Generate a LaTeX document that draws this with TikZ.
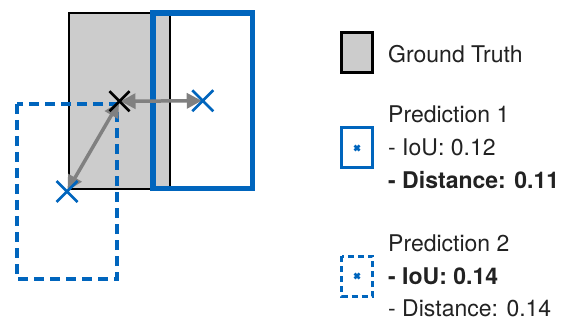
\documentclass[tikz,border=0pt]{standalone}
\usepackage{fontspec}
\setmainfont{TeX Gyre Heros}
\usetikzlibrary{arrows.meta,calc}
\definecolor{predblue}{RGB}{0,101,189}
\definecolor{gtgray}{RGB}{204,204,204}
\definecolor{txtgray}{RGB}{34,34,34}
\tikzset{
    gtbox/.style={draw=black, line width=2pt, fill=gtgray},
    predbox/.style={draw=predblue, line width=5.5pt},
    predboxdash/.style={draw=predblue, line width=4.5pt, dash pattern=on 10pt off 6pt},
    distarrow/.style={draw=gray, line width=3.5pt, {Triangle[length=15pt,width=15pt]}-{Triangle[length=15pt,width=15pt]}, shorten <=1pt, shorten >=1pt},
    cross/.style={line width=2.5pt},
    legtext/.style={anchor=base west, inner sep=0pt, text=txtgray, font=\fontsize{23}{27}\selectfont}
}
% cross marker at a named point
\newcommand{\crossat}[3]{%
    \draw[cross, #1] ($(#2)+(-#3,-#3)$) -- ($(#2)+(#3,#3)$)
        ($(#2)+(-#3,#3)$) -- ($(#2)+(#3,-#3)$);}

\begin{document}
\begin{tikzpicture}[x=1pt, y=-1pt]
    \useasboundingbox (0,0) rectangle (564,320);
    % boxes
    \draw[gtbox] (69,13.5) rectangle (170,189);
    \coordinate (gtc) at (119.5,101.25);
    \draw[predbox] (153,13) rectangle (252.5,188.5);
    \coordinate (pa) at (202.75,100.75);
    \draw[predboxdash] (17,104) rectangle (117,279);
    \coordinate (pb) at (67,191.5);
    % distances between centres
    \draw[distarrow] (gtc) -- (pa);
    \draw[distarrow] (gtc) -- (pb);
    \crossat{black}{gtc}{10}
    \crossat{predblue}{pa}{10.5}
    \crossat{predblue}{pb}{10.5}

    % legend
    \draw[draw=black, line width=3pt, fill=gtgray] (341.5,33) rectangle (372.5,73);
    \node[legtext] (lgt) at (388,62.5) {Ground Truth};

    \draw[draw=predblue, line width=3pt] (341.5,128) rectangle (372.5,168);
    \coordinate (la) at (357,148);
    \crossat{predblue}{la}{2.5}
    \node[legtext] (la1) at (388,122.5) {Prediction 1};
    \node[legtext] (la2) at (388,156) {- IoU: 0.12};
    \node[legtext] (la3) at (388,189) {\bfseries - Distance: 0.11};

    \draw[draw=predblue, line width=3pt, dash pattern=on 6pt off 4pt] (341.5,256) rectangle (372.5,296);
    \coordinate (lb) at (357,276);
    \crossat{predblue}{lb}{2.5}
    \node[legtext] (lb1) at (388,251) {Prediction 2};
    \node[legtext] (lb2) at (388,284.3) {\bfseries - IoU: 0.14};
    \node[legtext] (lb3) at (388,316) {- Distance: 0.14};
\end{tikzpicture}
\end{document}
